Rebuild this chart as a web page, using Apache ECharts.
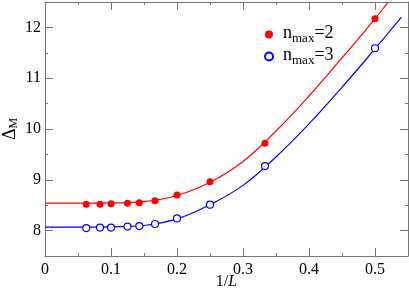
<!DOCTYPE html>
<html>
<head>
<meta charset="utf-8">
<script src="https://cdn.jsdelivr.net/npm/echarts@6/dist/echarts.min.js"></script>
<style>html,body{margin:0;padding:0;background:#fff}#c{width:409px;height:289px}</style>
</head>
<body>
<div id="c"></div>
<script>
// data
var invL = [0.0625, 0.0833, 0.1, 0.125, 0.1429, 0.1667, 0.2, 0.25, 0.3333, 0.5];
var red2 = [8.52, 8.52, 8.53, 8.54, 8.55, 8.59, 8.70, 8.96, 9.72, 12.17];
var blue3 = [8.05, 8.06, 8.06, 8.08, 8.09, 8.13, 8.24, 8.51, 9.27, 11.59];
var fitX_red = [0, 0.05, 0.1, 0.15, 0.2, 0.25, 0.3, 0.35, 0.4, 0.45, 0.5, 0.52];
var fitY_red = [8.54, 8.54, 8.545, 8.57, 8.69, 8.95, 9.36, 9.96, 10.65, 11.40, 12.17, 12.5];
var fitX_blue = [0, 0.05, 0.1, 0.15, 0.2, 0.25, 0.3, 0.35, 0.4, 0.45, 0.5, 0.54];
var fitY_blue = [8.07, 8.07, 8.075, 8.10, 8.23, 8.51, 8.89, 9.45, 10.10, 10.82, 11.58, 12.2];
var xTicks = [0, 0.1, 0.2, 0.3, 0.4, 0.5];
var xMinorTicks = [0.05, 0.15, 0.25, 0.35, 0.45];
var yTicks = [8, 9, 10, 11, 12];
var yMinorTicks = [8.5, 9.5, 10.5, 11.5];
var legendNames = ['nmax=2', 'nmax=3'];

function zip(a, b) { return a.map(function (v, i) { return [v, b[i]]; }); }

var AX = '#777';
var FONT = 'Liberation Serif';

function axis(pos, range, ticks, len, line, labelValues, margin) {
  return {
    type: 'value', position: pos, min: range[0], max: range[1],
    axisLine: { show: line, onZero: false, lineStyle: { color: AX, width: 1 } },
    axisTick: { show: true, inside: true, length: len, customValues: ticks, lineStyle: { color: AX } },
    axisLabel: labelValues
      ? { show: true, color: '#000', fontSize: 16, fontFamily: FONT, margin: margin, customValues: labelValues }
      : { show: false },
    splitLine: { show: false }
  };
}

var XR = [0, 0.55], YR = [7.5, 12.5];
var xAxes = [
  axis('bottom', XR, xTicks, 8, true, null),
  axis('bottom', XR, xMinorTicks, 3, false, xTicks, 6),
  axis('top', XR, xTicks, 8, true, null),
  axis('top', XR, xMinorTicks, 3, false, null)
];
xAxes[0].name = '{a|1/}{b|L}';
xAxes[0].nameLocation = 'middle';
xAxes[0].nameGap = 18;
xAxes[0].nameMoveOverlap = false;
xAxes[0].nameTextStyle = { fontFamily: FONT, fontSize: 16, color: '#000', rich: {
  a: { fontFamily: FONT, fontSize: 16, color: '#000' },
  b: { fontFamily: FONT, fontSize: 16, fontStyle: 'italic', color: '#000' } } };

var yAxes = [
  axis('left', YR, yTicks, 8, true, null),
  axis('left', YR, yMinorTicks, 3, false, yTicks, 4),
  axis('right', YR, yTicks, 8, true, null),
  axis('right', YR, yMinorTicks, 3, false, null)
];
yAxes[0].name = '{d|Δ}{m|M}';
yAxes[0].nameLocation = 'middle';
yAxes[0].nameRotate = 90;
yAxes[0].nameGap = 25;
yAxes[0].nameMoveOverlap = false;
yAxes[0].nameTextStyle = { fontFamily: FONT, fontSize: 17, color: '#000', rich: {
  d: { fontFamily: FONT, fontSize: 18, color: '#000', lineHeight: 18, verticalAlign: 'top' },
  m: { fontFamily: FONT, fontSize: 12, color: '#000', padding: [7, 0, 0, 0], verticalAlign: 'bottom' } } };

var chart = echarts.init(document.getElementById('c'));
chart.setOption({
  animation: false,
  backgroundColor: '#fff',
  grid: { left: 45, right: 1, top: 2, bottom: 33, outerBoundsMode: 'none' },
  xAxis: xAxes,
  yAxis: yAxes,
  legend: {
    data: legendNames, orient: 'vertical', left: 259, top: 19, itemGap: 1,
    itemWidth: 8, itemHeight: 8, icon: 'circle',
    formatter: function (name) {
      var k = name.split('=')[1];
      return '{n|n}{s|max}{n|=' + k + '}';
    },
    textStyle: { fontFamily: FONT, rich: {
      n: { fontFamily: FONT, fontSize: 18, color: '#000', lineHeight: 18, verticalAlign: 'top' },
      s: { fontFamily: FONT, fontSize: 13, color: '#000', padding: [8, 0, 0, 0], verticalAlign: 'bottom' }
    }, padding: [0, 0, 0, 5] }
  },
  series: [
    { name: 'fit2', type: 'line', data: zip(fitX_red, fitY_red), smooth: 0.4, showSymbol: false,
      lineStyle: { color: '#ff0000', width: 1.2 }, z: 2 },
    { name: 'fit3', type: 'line', data: zip(fitX_blue, fitY_blue), smooth: 0.4, showSymbol: false,
      lineStyle: { color: '#0000ff', width: 1.2 }, z: 2 },
    { name: legendNames[0], type: 'scatter', data: zip(invL, red2), symbol: 'circle', symbolSize: 7,
      itemStyle: { color: '#ff0000', opacity: 1 }, z: 3 },
    { name: legendNames[1], type: 'scatter', data: zip(invL, blue3), symbol: 'circle', symbolSize: 7,
      itemStyle: { color: '#ffffff', borderColor: '#0000ff', borderWidth: 1.2, opacity: 1 }, z: 3 }
  ]
});
</script>
</body>
</html>
